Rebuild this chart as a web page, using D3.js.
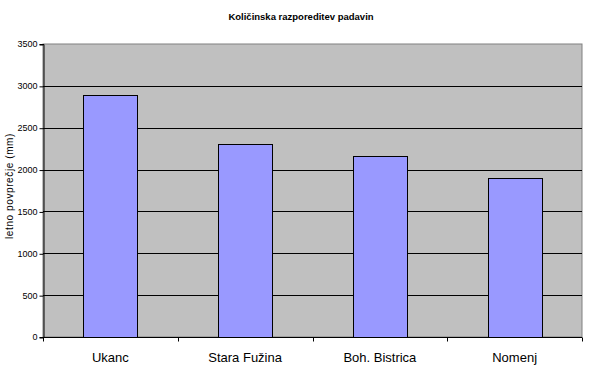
<!DOCTYPE html>
<html>
<head>
<meta charset="utf-8">
<script src="https://cdn.jsdelivr.net/npm/d3@7"></script>
<style>
  body { margin: 0; background: #fff; }
  text { font-family: "Liberation Sans", Arial, sans-serif; }
</style>
</head>
<body>
<svg id="chart" width="590" height="365"></svg>
<script>
const titleText = "Količinska razporeditev padavin";
const yTitle = "letno povprečje (mm)";
const categories = ["Ukanc", "Stara Fužina", "Boh. Bistrica", "Nomenj"];
const values = [2890, 2300, 2160, 1895];
const yTicks = [0, 500, 1000, 1500, 2000, 2500, 3000, 3500];

const svg = d3.select("#chart");
const margin = { left: 43, top: 44, right: 8, bottom: 28 };
const W = 590, H = 365;
const plotW = W - margin.left - margin.right;
const plotH = H - margin.top - margin.bottom;

const x = d3.scaleBand()
  .domain(categories)
  .range([0, plotW])
  .paddingInner(0.6)
  .paddingOuter(0.3);

const y = d3.scaleLinear()
  .domain([0, 3500])
  .range([plotH, 0]);

const g = svg.append("g")
  .attr("transform", `translate(${margin.left},${margin.top})`);

// plot background
g.append("rect")
  .attr("x", 0).attr("y", 0)
  .attr("width", plotW).attr("height", plotH)
  .attr("fill", "#c0c0c0")
  .attr("stroke", "#808080")
  .attr("stroke-width", 1);

// gridlines
g.selectAll(".grid")
  .data(yTicks.filter(d => d > 0 && d < 3500))
  .enter().append("line")
  .attr("class", "grid")
  .attr("x1", 0).attr("x2", plotW)
  .attr("y1", d => Math.round(y(d)) + 0.5)
  .attr("y2", d => Math.round(y(d)) + 0.5)
  .attr("stroke", "#000")
  .attr("stroke-width", 1);

// bars
g.selectAll(".bar")
  .data(values)
  .enter().append("rect")
  .attr("class", "bar")
  .attr("x", (d, i) => Math.round(x(categories[i])) + 0.5)
  .attr("y", d => Math.round(y(d)) + 0.5)
  .attr("width", Math.round(x.bandwidth()))
  .attr("height", d => Math.round(plotH - y(d)))
  .attr("fill", "#9999ff")
  .attr("stroke", "#000")
  .attr("stroke-width", 1);

// y axis
const yAxis = g.append("g")
  .attr("transform", "translate(0.5,0)")
  .call(d3.axisLeft(y).tickValues(yTicks).tickFormat(d3.format("d")).tickSize(4).tickPadding(2));
yAxis.selectAll("line").attr("stroke", "#000").attr("transform", "translate(0,0.5)");
yAxis.select(".domain").attr("stroke", "#000");
yAxis.selectAll("text")
  .attr("font-size", 9)
  .attr("fill", "#000")
  .style("font-family", "'Liberation Sans', Arial, sans-serif");

// x axis with ticks at band boundaries
const xAxisG = g.append("g")
  .attr("transform", `translate(0,${Math.round(plotH) + 0.5})`);
xAxisG.append("line")
  .attr("x1", 0).attr("x2", plotW)
  .attr("stroke", "#000");
const boundaries = d3.range(categories.length + 1).map(i => i * x.step());
xAxisG.selectAll(".xtick")
  .data(boundaries)
  .enter().append("line")
  .attr("x1", d => Math.round(d) + 0.5)
  .attr("x2", d => Math.round(d) + 0.5)
  .attr("y1", 0).attr("y2", 4)
  .attr("stroke", "#000");
xAxisG.selectAll(".xlabel")
  .data(categories)
  .enter().append("text")
  .attr("x", d => x(d) + x.bandwidth() / 2)
  .attr("y", 24)
  .attr("text-anchor", "middle")
  .attr("font-size", 13)
  .attr("fill", "#000")
  .text(d => d);

// title
svg.append("text")
  .attr("x", 301)
  .attr("y", 20)
  .attr("text-anchor", "middle")
  .attr("font-size", 9.5)
  .attr("font-weight", "bold")
  .text(titleText);

// y axis title
svg.append("text")
  .attr("transform", "translate(13,186) rotate(-90)")
  .attr("text-anchor", "middle")
  .attr("font-size", 10)
  .attr("letter-spacing", 0.6)
  .text(yTitle);
</script>
</body>
</html>
